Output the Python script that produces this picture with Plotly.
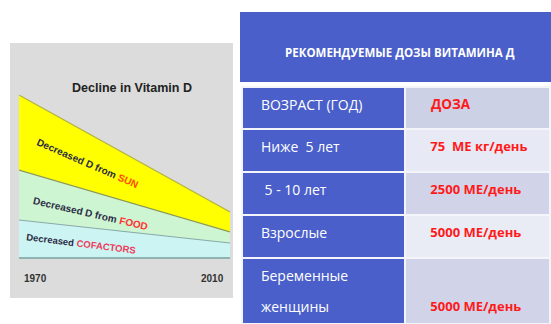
import plotly.graph_objects as go

# ---- data ----
years = [1970, 2010]
cofactors = [37, 14]
food = [50, 11]
sun = [75, 20]
layer_names = ["Decreased COFACTORS", "Decreased D from FOOD", "Decreased D from SUN"]
chart_title = "Decline in Vitamin D"

table_title = "РЕКОМЕНДУЕМЫЕ ДОЗЫ ВИТАМИНА Д"
col_headers = ["ВОЗРАСТ (ГОД)", "ДОЗА"]
ages = ["Ниже  5 лет", " 5 - 10 лет", "Взрослые", "Беременные<br>женщины"]
doses = ["75  МЕ кг/день", "2500 МЕ/день", "5000 МЕ/день", "5000 МЕ/день"]

W, H = 551, 324
BLUE = "#4a5fc9"
RED = "#ff1a1a"
FONT = "Open Sans, Liberation Sans, Arial, sans-serif"
NB = "\u00a0"

fig = go.Figure()

# stacked wedges
fig.add_trace(go.Scatter(x=years, y=cofactors, stackgroup="s", mode="lines",
                         line=dict(color="#88aaa8", width=1.2), fillcolor="#ccf4f2",
                         name=layer_names[0], hoverinfo="skip"))
fig.add_trace(go.Scatter(x=years, y=food, stackgroup="s", mode="lines",
                         line=dict(color="#8c9a5a", width=1.2), fillcolor="#cef5d2",
                         name=layer_names[1], hoverinfo="skip"))
fig.add_trace(go.Scatter(x=years, y=sun, stackgroup="s", mode="lines",
                         line=dict(color="#b5b545", width=1.2), fillcolor="#ffff00",
                         name=layer_names[2], hoverinfo="skip"))

total0 = cofactors[0] + food[0] + sun[0]

fig.update_layout(
    width=W, height=H, margin=dict(l=0, r=0, t=0, b=0),
    paper_bgcolor="white", plot_bgcolor="rgba(0,0,0,0)", showlegend=False,
    xaxis=dict(domain=[19 / W, 230 / W], range=years, showgrid=False, zeroline=False,
               showticklabels=False, showline=True, linecolor="#8fb2b2", linewidth=1.5,
               fixedrange=True),
    yaxis=dict(domain=[(H - 257) / H, (H - 95) / H], range=[0, total0], showgrid=False,
               zeroline=False, showticklabels=False, fixedrange=True),
    shapes=[
        dict(type="rect", xref="paper", yref="paper", x0=10 / W, x1=233 / W,
             y0=1 - 298 / H, y1=1 - 43 / H, fillcolor="#dcdcdc", line=dict(width=0),
             layer="below"),
        dict(type="rect", xref="paper", yref="paper", x0=240 / W, x1=1,
             y0=1 - 82 / H, y1=1 - 12 / H, fillcolor=BLUE, line=dict(width=0),
             layer="below"),
    ],
)

LAB = "Liberation Sans, Arial, sans-serif"
txtc = "#2b2b45"
ann = [
    dict(xref="paper", yref="paper", x=132 / W, y=1 - 88 / H, xanchor="center", yanchor="middle",
         text="<b>" + chart_title + "</b>", showarrow=False,
         font=dict(family=LAB, size=12.5, color="#222222")),
    dict(xref="x", yref="y", x=1983.1, y=94, textangle=23.5, showarrow=False,
         xanchor="center", yanchor="middle",
         text="<b>Decreased D from <span style='color:#ff4a00'>SUN</span></b>",
         font=dict(family=LAB, size=10, color=txtc)),
    dict(xref="x", yref="y", x=1983.5, y=44, textangle=13, showarrow=False,
         xanchor="center", yanchor="middle",
         text="<b>Decreased D from <span style='color:#ff3030'>FOOD</span></b>",
         font=dict(family=LAB, size=10, color=txtc)),
    dict(xref="x", yref="y", x=1981.8, y=14, textangle=7, showarrow=False,
         xanchor="center", yanchor="middle",
         text="<b>Decreased <span style='color:#ee3a5a'>COFACTORS</span></b>",
         font=dict(family=LAB, size=9.5, color=txtc)),
    dict(xref="x", yref="paper", x=years[0], y=1 - 278 / H, xanchor="left", yanchor="middle",
         xshift=3, text="<b>%d</b>" % years[0], showarrow=False,
         font=dict(family=LAB, size=10, color="#333333")),
    dict(xref="x", yref="paper", x=years[1], y=1 - 278 / H, xanchor="right", yanchor="middle",
         xshift=-4, text="<b>%d</b>" % years[1], showarrow=False,
         font=dict(family=LAB, size=10, color="#333333")),
    dict(xref="paper", yref="paper", x=400 / W, y=1 - 52 / H, xanchor="center", yanchor="middle",
         text="<b>" + table_title + "</b>", showarrow=False,
         font=dict(family=FONT, size=11.5, color="white")),
]
fig.update_layout(annotations=ann)


def styled(s, px, pad, bold=False, lead_blank=False):
    # each visual line gets its own span so the real glyph size is px while the
    # cell's nominal font size controls the baseline offset / line spacing
    out = []
    lines = s.split("<br>")
    if lead_blank:
        lines = [""] + lines
    for line in lines:
        t = NB * pad + line.replace(" ", NB)
        if bold:
            t = "<b>" + t + "</b>"
        out.append('<span style="font-size:%spx">%s</span>' % (px, t))
    return "<br>".join(out) + "<br>"


age_cells = [styled(a, 14, 3) for a in ages]
dose_cells = [styled(d, 13, 5, bold=True, lead_blank=("<br>" in a)) for a, d in zip(ages, doses)]
n = len(ages)

light = ["#e7e9f4", "#d1d4e8", "#e9ebf5", "#d1d4e8"]
fig.add_trace(go.Table(
    domain=dict(x=[242 / W, 1], y=[0, (H - 87) / H]),
    columnwidth=[164, 145],
    header=dict(values=[styled(col_headers[0], 14, 3), styled(col_headers[1], 13.5, 5, bold=True)],
                fill_color=[BLUE, "#cdd1e6"], align="left", height=42,
                line=dict(color="#f4f5fa", width=2),
                font=dict(family=FONT, size=22, color=["white", RED])),
    cells=dict(values=[age_cells, dose_cells],
               fill_color=[[BLUE] * n, light], align="left", height=43,
               line=dict(color="#f4f5fa", width=2),
               font=dict(family=FONT, size=24, color=["white", RED])),
))

fig.write_html("out.html")
